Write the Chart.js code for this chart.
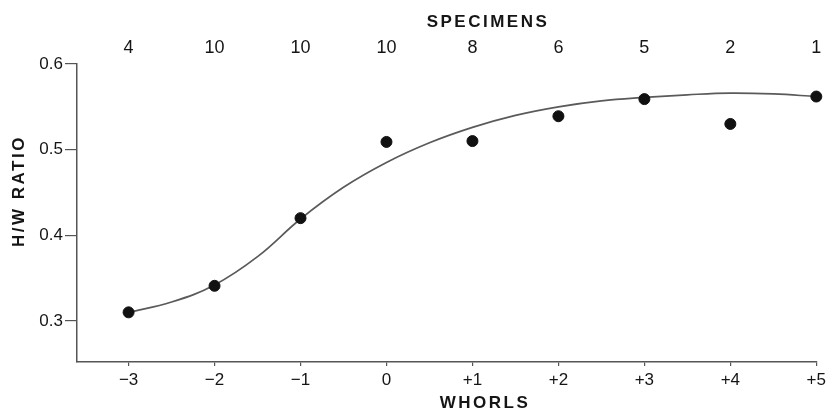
<!DOCTYPE html>
<html>
<head>
<meta charset="utf-8">
<script src="https://cdn.jsdelivr.net/npm/chart.js@4"></script>
<style>
  body { margin: 0; background: #fff; }
  #wrap { width: 830px; height: 413px; }
</style>
</head>
<body>
<div id="wrap"><canvas id="chart" width="830" height="413"></canvas></div>
<script>
// whorl positions and their labels
const whorls = [-3, -2, -1, 0, 1, 2, 3, 4, 5];
const whorlLabels = ['\u22123', '\u22122', '\u22121', '0', '+1', '+2', '+3', '+4', '+5'];
// number of specimens for each whorl (top row)
const specimens = [4, 10, 10, 10, 8, 6, 5, 2, 1];
// measured mean H/W ratio per whorl
const ratios = [0.310, 0.341, 0.420, 0.509, 0.510, 0.539, 0.559, 0.530, 0.562];
// fitted curve
const curveX = [-3, -2.5, -2, -1.5, -1, -0.5, 0, 0.5, 1, 1.5, 2, 2.5, 3, 3.5, 4, 4.5, 5];
const curveY = [0.310, 0.322, 0.342, 0.375, 0.419, 0.456, 0.485, 0.508, 0.526, 0.540, 0.550, 0.557, 0.561, 0.564, 0.566, 0.565, 0.562];
const yTicks = [0.3, 0.4, 0.5, 0.6];

const FONT = "'Liberation Sans', Arial, sans-serif";
const INK = '#151515';

const titles = {
  id: 'titles',
  afterDraw(chart) {
    const c = chart.ctx;
    c.save();
    c.fillStyle = INK;
    c.textAlign = 'center';
    c.textBaseline = 'middle';
    c.font = 'bold 17px ' + FONT;
    c.letterSpacing = '2.5px';
    c.fillText('SPECIMENS', 488, 22);
    c.fillText('WHORLS', 485, 403);
    c.translate(19, 191);
    c.rotate(-Math.PI / 2);
    c.fillText('H/W RATIO', 0, 0);
    c.restore();
  }
};

let ctx = document.getElementById('chart').getContext('2d');

let hwChart = new Chart(ctx, {
  type: 'scatter',
  data: {
    datasets: [{
      label: 'H/W ratio',
      data: whorls.map((w, i) => ({x: w, y: ratios[i]})),
      pointRadius: 5.5,
      pointHoverRadius: 5.5,
      pointBackgroundColor: '#111',
      pointBorderColor: '#111',
      showLine: false,
      clip: false,
      order: 0
    }, {
      label: 'fit',
      type: 'line',
      data: curveX.map((x, i) => ({x: x, y: curveY[i]})),
      borderColor: '#5a5a5a',
      borderWidth: 1.7,
      pointRadius: 0,
      fill: false,
      tension: 0.4,
      clip: false,
      order: 1
    }]
  },
  options: {
    responsive: false,
    animation: false,
    events: [],
    layout: { padding: { left: 0, right: 13, top: 0, bottom: 0 } },
    plugins: { legend: { display: false }, tooltip: { enabled: false } },
    scales: {
      x: {
        type: 'linear',
        position: 'bottom',
        min: -3.6,
        max: 5,
        afterBuildTicks: s => { s.ticks = whorls.map(v => ({value: v})); },
        afterFit: s => { s.height = 51; },
        ticks: {
          callback: v => whorlLabels[whorls.indexOf(v)],
          font: { family: FONT, size: 17 },
          color: INK,
          padding: 4,
          maxRotation: 0,
          autoSkip: false
        },
        grid: { drawOnChartArea: false, drawTicks: true, tickLength: 4, color: '#555', lineWidth: 1.2 },
        border: { display: true, color: '#555', width: 1.5 }
      },
      top: {
        type: 'linear',
        position: 'top',
        min: -3.6,
        max: 5,
        afterBuildTicks: s => { s.ticks = whorls.map(v => ({value: v})); },
        afterFit: s => { s.height = 64; },
        ticks: {
          callback: v => String(specimens[whorls.indexOf(v)]),
          font: { family: FONT, size: 18 },
          color: INK,
          padding: 5,
          maxRotation: 0,
          autoSkip: false
        },
        grid: { display: false, drawTicks: false },
        border: { display: false }
      },
      y: {
        type: 'linear',
        min: 0.252,
        max: 0.6,
        afterBuildTicks: s => { s.ticks = yTicks.map(v => ({value: v})); },
        afterFit: s => { s.width = 77; },
        ticks: {
          callback: v => v.toFixed(1),
          font: { family: FONT, size: 17 },
          color: INK,
          padding: 2
        },
        grid: { drawOnChartArea: false, drawTicks: true, tickLength: 12, color: '#555', lineWidth: 1.2 },
        border: { display: true, color: '#555', width: 1.5 }
      }
    }
  },
  plugins: [titles]
});
</script>
</body>
</html>
